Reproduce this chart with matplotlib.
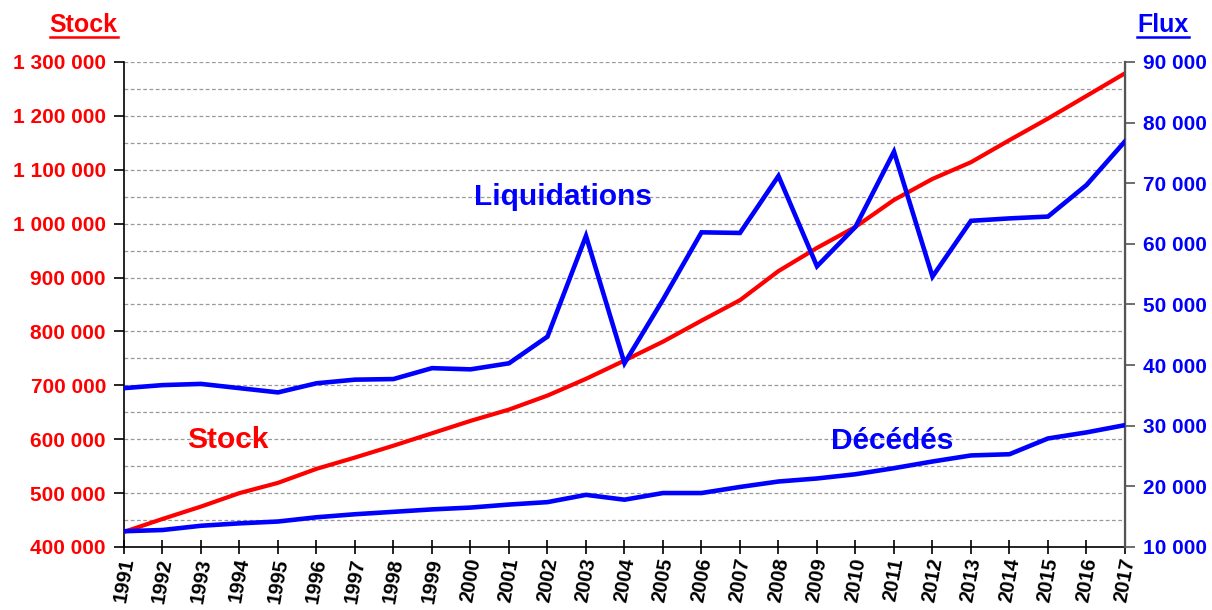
import matplotlib
matplotlib.use("Agg")
import matplotlib.pyplot as plt
from matplotlib.ticker import FuncFormatter, MultipleLocator
from matplotlib.lines import Line2D

plt.rcParams['font.family'] = ['Liberation Sans', 'DejaVu Sans']
plt.rcParams['font.weight'] = 'bold'

# data
years = list(range(1991, 2018))
stock = [428000, 452000, 475000, 500000, 519000, 545000, 566000, 588000, 611000, 634000,
         655000, 681000, 712000, 746000, 781000, 820000, 858000, 912000, 955000, 994000,
         1044000, 1083000, 1114000, 1155000, 1195000, 1237000, 1279000]
liquidations = [36200, 36700, 36900, 36200, 35500, 37000, 37600, 37700, 39500, 39300,
                40300, 44700, 61300, 40300, 50800, 61900, 61800, 71200, 56300, 62800,
                75200, 54600, 63800, 64200, 64500, 69700, 76900]
decedes = [12600, 12800, 13500, 13900, 14200, 14900, 15400, 15800, 16200, 16500,
           17000, 17400, 18600, 17800, 18900, 18900, 19900, 20800, 21300, 22000,
           23000, 24100, 25100, 25300, 27900, 28900, 30100]

RED = '#ff0000'
BLUE = '#0000ff'


def spaced(v, pos):
    return f"{v:,.0f}".replace(',', ' ')


fig = plt.figure(figsize=(12.12, 6.10), dpi=100)
ax = fig.add_axes([0.1023, 0.1033, 0.8259, 0.7951])
ax2 = ax.twinx()

ax.plot(years, stock, color=RED, lw=3.0, solid_joinstyle='round', zorder=3)
ax2.plot(years, liquidations, color=BLUE, lw=3.3, solid_joinstyle='miter', zorder=3)
ax2.plot(years, decedes, color=BLUE, lw=3.3, solid_joinstyle='round', zorder=3)

ax.set_xlim(1991, 2017)
ax.set_ylim(400000, 1300000)
ax2.set_ylim(10000, 90000)

ax.yaxis.set_major_locator(MultipleLocator(100000))
ax.yaxis.set_minor_locator(MultipleLocator(50000))
ax.yaxis.set_major_formatter(FuncFormatter(spaced))
ax2.yaxis.set_major_locator(MultipleLocator(10000))
ax2.yaxis.set_major_formatter(FuncFormatter(spaced))

ax.grid(axis='y', which='both', color='#999999', ls=(0, (3, 2)), lw=0.9)
ax.set_axisbelow(True)

ax.set_xticks(years)
ax.set_xticklabels([str(y) for y in years], rotation=80, fontsize=14.5,
                   fontweight='bold', color='black')
ax.tick_params(axis='x', direction='inout', length=10, width=1.2, pad=2)
ax.tick_params(axis='y', which='major', direction='out', length=7, width=1.2,
               labelsize=15, labelcolor=RED, pad=6)
ax.tick_params(axis='y', which='minor', length=0)
ax2.tick_params(axis='y', direction='out', length=7, width=1.2, color='#555555',
                labelsize=15, labelcolor=BLUE, pad=6)
for lab in ax.get_yticklabels() + ax2.get_yticklabels():
    lab.set_fontweight('bold')

for a in (ax, ax2):
    a.spines['top'].set_visible(False)
ax.spines['left'].set_linewidth(1.2)
ax.spines['bottom'].set_linewidth(1.2)
ax2.spines['left'].set_visible(False)
ax2.spines['bottom'].set_visible(False)
ax2.spines['right'].set_color('#555555')
ax2.spines['right'].set_linewidth(1.6)

# inline labels
ax2.text(2002.4, 67700, 'Liquidations', color=BLUE, fontsize=21.5, fontweight='bold',
         ha='center', va='center')
ax.text(1993.7, 599000, 'Stock', color=RED, fontsize=21.5, fontweight='bold',
        ha='center', va='center')
ax2.text(2010.95, 27500, 'Décédés', color=BLUE, fontsize=21.5, fontweight='bold',
         ha='center', va='center')

# axis titles, underlined
t1 = fig.text(83.5 / 1212, 1 - 25 / 610, 'Stock', color=RED, fontsize=18,
              fontweight='bold', ha='center', va='center')
t2 = fig.text(1163 / 1212, 1 - 25 / 610, 'Flux', color=BLUE, fontsize=18,
              fontweight='bold', ha='center', va='center')
fig.canvas.draw()
inv = fig.transFigure.inverted()
for t, c in ((t1, RED), (t2, BLUE)):
    bb = t.get_window_extent().transformed(inv)
    y = 1 - 37 / 610
    fig.add_artist(Line2D([bb.x0, bb.x1], [y, y], color=c, lw=1.8,
                          transform=fig.transFigure))

fig.savefig('out.png', dpi=100)
